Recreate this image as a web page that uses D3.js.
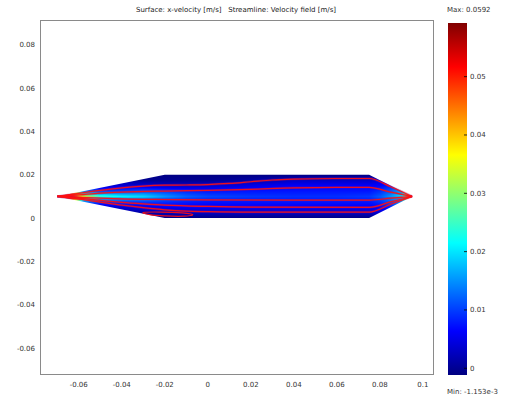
<!DOCTYPE html>
<html><head><meta charset="utf-8">
<script src="https://cdn.jsdelivr.net/npm/d3@7"></script>
<style>html,body{margin:0;padding:0;background:#fff;}svg{display:block;}text{white-space:pre;}</style>
</head><body>
<svg id="chart" width="511" height="398"></svg>
<script>
// ---------- data ----------
const titleText = "Surface: x-velocity [m/s]   Streamline: Velocity field [m/s]";
const xTicks = [-0.06, -0.04, -0.02, 0, 0.02, 0.04, 0.06, 0.08, 0.1];
const yTicks = [-0.06, -0.04, -0.02, 0, 0.02, 0.04, 0.06, 0.08];
const cbTicks = [0, 0.01, 0.02, 0.03, 0.04, 0.05];
const uMin = -1.153e-3, uMax = 0.0592;
const maxLabel = "Max: 0.0592", minLabel = "Min: -1.153e-3";

// domain boundary (m)
const boundary = [[-0.07,0.01],[-0.02,0.02],[0.075,0.02],[0.095,0.01],[0.075,0],[-0.02,0]];

// x-velocity samples: stations (m), rows (m), values [station][row]
const fieldX = [-0.07,-0.063,-0.058,-0.05,-0.04,-0.03,-0.02,-0.01,0,0.02,0.04,0.06,0.075,0.08,0.085,0.09,0.093,0.095];
const fieldY = [0,0.0025,0.005,0.0075,0.01,0.0125,0.015,0.0175,0.02];
const fieldU = [
  [0.0592,0.0592,0.0592,0.0592,0.0592,0.0592,0.0592,0.0592,0.0592],
  [0.030,0.030,0.030,0.040,0.050,0.040,0.030,0.030,0.030],
  [0.006,0.006,0.008,0.014,0.036,0.014,0.008,0.006,0.006],
  [-0.001,0.001,0.003,0.010,0.024,0.010,0.003,0.001,-0.001],
  [-0.001,0.001,0.004,0.010,0.021,0.010,0.004,0.001,-0.001],
  [-0.001,0.001,0.005,0.010,0.019,0.011,0.004,0.000,-0.001],
  [-0.001,0.002,0.006,0.009,0.015,0.010,0.003,0.000,-0.001],
  [-0.001,0.003,0.006,0.008,0.012,0.0085,0.003,0.000,-0.001],
  [-0.001,0.003,0.006,0.0075,0.0105,0.0075,0.0035,0.000,-0.001],
  [-0.001,0.003,0.006,0.0075,0.0095,0.0075,0.005,0.001,-0.001],
  [-0.001,0.003,0.006,0.0075,0.009,0.0075,0.006,0.003,-0.001],
  [-0.001,0.003,0.006,0.0075,0.009,0.0075,0.006,0.003,-0.001],
  [-0.001,0.003,0.006,0.0075,0.0095,0.0075,0.006,0.003,-0.001],
  [-0.001,0.004,0.0065,0.009,0.0115,0.009,0.0065,0.004,-0.001],
  [0.001,0.005,0.008,0.012,0.015,0.012,0.008,0.005,0.001],
  [0.006,0.009,0.012,0.016,0.020,0.016,0.012,0.009,0.006],
  [0.018,0.020,0.024,0.028,0.033,0.028,0.024,0.020,0.018],
  [0.0592,0.0592,0.0592,0.0592,0.0592,0.0592,0.0592,0.0592,0.0592]
];

// streamlines (m)
const stream1 = [[-0.07,0.01],[-0.06,0.0114],[-0.05,0.0128],[-0.04,0.014],[-0.03,0.0148],[-0.02,0.0152],[-0.01,0.0153],[0,0.0155],[0.01,0.016],[0.02,0.0168],[0.03,0.0176],[0.04,0.018],[0.06,0.0183],[0.075,0.0183],[0.085,0.0145],[0.095,0.01]];
const stream2 = [[-0.07,0.01],[-0.06,0.0107],[-0.05,0.0115],[-0.04,0.012],[-0.02,0.0125],[0,0.0128],[0.02,0.0133],[0.04,0.014],[0.06,0.0142],[0.075,0.0142],[0.085,0.012],[0.095,0.01]];
const stream3 = [[-0.07,0.01],[-0.06,0.0096],[-0.05,0.0092],[-0.04,0.0089],[-0.02,0.0086],[0,0.0084],[0.04,0.0083],[0.075,0.0083],[0.085,0.0092],[0.095,0.01]];
const stream4 = [[-0.07,0.01],[-0.06,0.0092],[-0.05,0.0082],[-0.04,0.0073],[-0.03,0.0066],[-0.02,0.006],[0,0.0054],[0.02,0.0051],[0.075,0.005],[0.085,0.0075],[0.095,0.01]];
const stream5 = [[-0.07,0.01],[-0.06,0.0088],[-0.05,0.0074],[-0.04,0.006],[-0.03,0.0048],[-0.02,0.0038],[-0.01,0.0032],[0,0.003],[0.02,0.0028],[0.075,0.0028],[0.085,0.0064],[0.095,0.01]];
const streamLoop = [[-0.03,0.0026],[-0.022,0.0028],[-0.012,0.0024],[-0.007,0.0016],[-0.011,0.0009],[-0.02,0.0010],[-0.027,0.0016]];
const streamlines = [stream1, stream2, stream3, stream4, stream5];

// ---------- layout ----------
const svg = d3.select("#chart");
const plot = {x0:40, y0:20, x1:433, y1:374};
const x = d3.scaleLinear().domain([-0.078, 0.1047]).range([plot.x0, plot.x1]);
const y = d3.scaleLinear().domain([-0.072, 0.0915]).range([plot.y1, plot.y0]);
const font = "DejaVu Sans, Verdana, sans-serif";

const jetStops = [0,0.125,0.375,0.625,0.875,1];
const jetColors = ["#000080","#0000ff","#00ffff","#ffff00","#ff0000","#800000"];
const color = d3.scaleLinear().domain(jetStops.map(f => uMin + f*(uMax-uMin))).range(jetColors).clamp(true);

// title
svg.append("text").attr("x",236).attr("y",12).attr("text-anchor","middle")
  .attr("font-family",font).attr("font-size",7).attr("fill","#222").text(titleText);

// frame
svg.append("rect").attr("x",plot.x0+0.5).attr("y",plot.y0+0.5)
  .attr("width",plot.x1-plot.x0).attr("height",plot.y1-plot.y0)
  .attr("fill","#fff").attr("stroke","#8a8a8a").attr("stroke-width",1);

// axes labels
svg.append("g").selectAll("text").data(xTicks).join("text")
  .attr("x",d=>x(d)).attr("y",plot.y1+13).attr("text-anchor","middle")
  .attr("font-family",font).attr("font-size",7).attr("fill","#333")
  .text(d=>String(+d.toFixed(2)));
svg.append("g").selectAll("text").data(yTicks).join("text")
  .attr("x",plot.x0-5).attr("y",d=>y(d)+2.5).attr("text-anchor","end")
  .attr("font-family",font).attr("font-size",7).attr("fill","#333")
  .text(d=>String(+d.toFixed(2)));

// field image
const defs = svg.append("defs");
const polyStr = boundary.map(p=>[x(p[0]),y(p[1])].join(",")).join(" ");
defs.append("clipPath").attr("id","dom").append("polygon").attr("points",polyStr);

const bx0 = Math.floor(x(-0.07))-1, bx1 = Math.ceil(x(0.095))+1;
const by0 = Math.floor(y(0.02))-1, by1 = Math.ceil(y(0))+1;
const cw = bx1-bx0, ch = by1-by0;
const cnv = document.createElement("canvas");
cnv.width = cw; cnv.height = ch;
const ctx = cnv.getContext("2d");
const img = ctx.createImageData(cw,ch);
function sample(xm, ym){
  let i = d3.bisectRight(fieldX, xm)-1;
  i = Math.max(0, Math.min(fieldX.length-2, i));
  let tx = (xm-fieldX[i])/(fieldX[i+1]-fieldX[i]); tx = Math.max(0,Math.min(1,tx));
  let j = d3.bisectRight(fieldY, ym)-1;
  j = Math.max(0, Math.min(fieldY.length-2, j));
  let ty = (ym-fieldY[j])/(fieldY[j+1]-fieldY[j]); ty = Math.max(0,Math.min(1,ty));
  const a = fieldU[i][j], b = fieldU[i+1][j], c = fieldU[i][j+1], d = fieldU[i+1][j+1];
  return (a*(1-tx)+b*tx)*(1-ty) + (c*(1-tx)+d*tx)*ty;
}
for(let py=0; py<ch; py++){
  for(let px=0; px<cw; px++){
    const xm = x.invert(bx0+px+0.5), ym = y.invert(by0+py+0.5);
    const c = d3.rgb(color(sample(xm,ym)));
    const k = (py*cw+px)*4;
    img.data[k]=c.r; img.data[k+1]=c.g; img.data[k+2]=c.b; img.data[k+3]=255;
  }
}
ctx.putImageData(img,0,0);
svg.append("image").attr("x",bx0).attr("y",by0).attr("width",cw).attr("height",ch)
  .attr("href",cnv.toDataURL()).attr("clip-path","url(#dom)");

// streamlines
const line = d3.line().x(d=>x(d[0])).y(d=>y(d[1])).curve(d3.curveMonotoneX);
const sl = svg.append("g");
sl.selectAll("path.halo").data(streamlines).join("path").attr("class","halo")
  .attr("d",line).attr("fill","none").attr("stroke","#a01070")
  .attr("stroke-width",2.4).attr("stroke-opacity",0.35);
sl.selectAll("path.core").data(streamlines).join("path").attr("class","core")
  .attr("d",line).attr("fill","none").attr("stroke","#ff1010")
  .attr("stroke-width",1.2).attr("stroke-opacity",0.9);
sl.append("path").datum(streamLoop)
  .attr("d",d3.line().x(d=>x(d[0])).y(d=>y(d[1])).curve(d3.curveCardinalClosed))
  .attr("fill","none").attr("stroke","#ff1010").attr("stroke-width",1.2).attr("stroke-opacity",0.9);

// colorbar
const cb = {x:448, w:19, top:23, bottom:375};
const cy = d3.scaleLinear().domain([uMin,uMax]).range([cb.bottom, cb.top]);
const grad = defs.append("linearGradient").attr("id","jet").attr("x1",0).attr("y1",1).attr("x2",0).attr("y2",0);
grad.selectAll("stop").data(jetStops).join("stop")
  .attr("offset",d=>d).attr("stop-color",(d,i)=>jetColors[i]);
svg.append("rect").attr("x",cb.x).attr("y",cb.top).attr("width",cb.w).attr("height",cb.bottom-cb.top)
  .attr("fill","url(#jet)");
svg.append("g").selectAll("line").data(cbTicks).join("line")
  .attr("x1",cb.x+cb.w-3).attr("x2",cb.x+cb.w).attr("y1",d=>cy(d)).attr("y2",d=>cy(d))
  .attr("stroke","#000").attr("stroke-width",0.8);
svg.append("g").selectAll("text").data(cbTicks).join("text")
  .attr("x",cb.x+cb.w+3).attr("y",d=>cy(d)+2.5)
  .attr("font-family",font).attr("font-size",7).attr("fill","#333").text(d=>String(d));
svg.append("text").attr("x",447).attr("y",12).attr("font-family",font).attr("font-size",7)
  .attr("fill","#333").text(maxLabel);
svg.append("text").attr("x",447).attr("y",394).attr("font-family",font).attr("font-size",7)
  .attr("fill","#333").text(minLabel);
</script>
</body></html>
